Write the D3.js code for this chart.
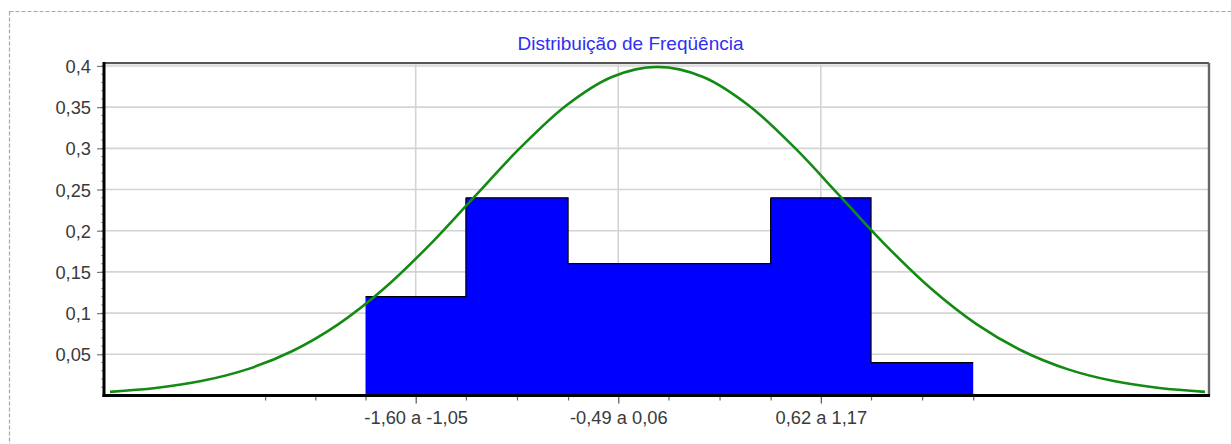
<!DOCTYPE html>
<html>
<head>
<meta charset="utf-8">
<script src="https://cdn.jsdelivr.net/npm/d3@7"></script>
<style>
  html, body { margin: 0; padding: 0; background: #fff; }
  svg { display: block; }
  text { font-family: "Liberation Sans", Arial, sans-serif; }
</style>
</head>
<body>
<svg id="chart" width="1231" height="444"></svg>
<script>
// ---- data ----
const title = "Distribuição de Freqüência";
const binEdges = [-1.60, -1.05, -0.49, 0.06, 0.62, 1.17, 1.73];
const relFreq = [0.12, 0.24, 0.16, 0.16, 0.24, 0.04];
const leadingEdge = -2.15;                 // empty class edge shown on the axis
const binLabels = ["-1,60 a -1,05", "", "-0,49 a 0,06", "", "0,62 a 1,17", ""];
const yTicks = [0.05, 0.10, 0.15, 0.20, 0.25, 0.30, 0.35, 0.40];
const yTickLabels = ["0,05", "0,1", "0,15", "0,2", "0,25", "0,3", "0,35", "0,4"];
// normal curve (z, density)
const curveZ = [-3.0, -2.75, -2.5, -2.25, -2.0, -1.75, -1.5, -1.25, -1.0, -0.75, -0.5, -0.25, 0,
                0.25, 0.5, 0.75, 1.0, 1.25, 1.5, 1.75, 2.0, 2.25, 2.5, 2.75, 3.0];
const curveY = [0.0044, 0.0091, 0.0175, 0.0317, 0.054, 0.0863, 0.1295, 0.1826, 0.242, 0.3011, 0.3521, 0.3867, 0.3989,
                0.3867, 0.3521, 0.3011, 0.242, 0.1826, 0.1295, 0.0863, 0.054, 0.0317, 0.0175, 0.0091, 0.0044];
const xDomain = [-3.033, 3.022];
const yDomain = [0, 0.4036];

// ---- layout ----
const L = 104, R = 1209, T = 63, B = 395.5;
const FS = 18.3;
const svg = d3.select("#chart");

// outer dashed frame
svg.append("rect")
  .attr("x", 9.5).attr("y", 11.5).attr("width", 1240).attr("height", 460)
  .attr("fill", "none").attr("stroke", "#a8a8a8").attr("stroke-width", 1.2)
  .attr("stroke-dasharray", "4,2");

const x = d3.scaleLinear().domain(xDomain).range([L, R]);
const y = d3.scaleLinear().domain(yDomain).range([B, T]);

// title
svg.append("text")
  .attr("x", 630.5).attr("y", 49.5)
  .attr("text-anchor", "middle")
  .attr("font-size", 19)
  .attr("fill", "#3030f0")
  .text(title);

// horizontal grid
svg.append("g").selectAll("line").data(yTicks).join("line")
  .attr("x1", L).attr("x2", R)
  .attr("y1", d => y(d)).attr("y2", d => y(d))
  .attr("stroke", "#d4d4d4").attr("stroke-width", 1.6);

// bins
const bins = relFreq.map((f, i) => ({ x0: binEdges[i], x1: binEdges[i + 1], f, label: binLabels[i] }));

// vertical grid at labelled classes
svg.append("g").selectAll("line").data(bins.filter(b => b.label)).join("line")
  .attr("x1", b => x((b.x0 + b.x1) / 2)).attr("x2", b => x((b.x0 + b.x1) / 2))
  .attr("y1", T).attr("y2", B)
  .attr("stroke", "#d4d4d4").attr("stroke-width", 1.6);

// bars (one joined area so no seams between adjacent classes)
const area = d3.area()
  .x(d => x(d[0])).y0(y(0)).y1(d => y(d[1]))
  .curve(d3.curveStepAfter);
const stepData = bins.map(b => [b.x0, b.f]).concat([[bins[bins.length - 1].x1, bins[bins.length - 1].f]]);
svg.append("path").datum(stepData).attr("d", area).attr("fill", "#0000ff");

// black step outline on top of bars
let stepPath = "";
bins.forEach((b, i) => {
  stepPath += `M${x(b.x0)},${y(b.f)}H${x(b.x1)}`;
  if (i < bins.length - 1) stepPath += `V${y(bins[i + 1].f)}`;
});
svg.append("path").attr("d", stepPath)
  .attr("fill", "none").attr("stroke", "#000").attr("stroke-width", 1.2);

// normal curve
const curveData = curveZ.map((z, i) => [z, curveY[i]]);
svg.append("path")
  .datum(curveData)
  .attr("d", d3.line().x(d => x(d[0])).y(d => y(d[1])).curve(d3.curveCatmullRom))
  .attr("fill", "none").attr("stroke", "#138a13").attr("stroke-width", 2.6);

// frame: top and right
svg.append("line").attr("x1", L).attr("x2", R).attr("y1", T).attr("y2", T)
  .attr("stroke", "#555").attr("stroke-width", 2);
svg.append("line").attr("x1", L).attr("x2", R).attr("y1", T + 1.8).attr("y2", T + 1.8)
  .attr("stroke", "#ddd").attr("stroke-width", 1);
svg.append("line").attr("x1", R).attr("x2", R).attr("y1", T).attr("y2", B)
  .attr("stroke", "#666").attr("stroke-width", 2.4);

// y axis
const yMinor = d3.range(1, 41).map(i => i / 100);
svg.append("g").selectAll("line").data(yMinor).join("line")
  .attr("x1", L - 3).attr("x2", L)
  .attr("y1", d => y(d)).attr("y2", d => y(d))
  .attr("stroke", "#999").attr("stroke-width", 1);
const yAxis = d3.axisLeft(y).tickValues(yTicks)
  .tickFormat((d, i) => yTickLabels[i]).tickSize(7).tickPadding(6);
const gy = svg.append("g").attr("transform", `translate(${L},0)`).call(yAxis);
gy.select(".domain").remove();
gy.selectAll(".tick line").attr("stroke", "#777").attr("stroke-width", 1.2);
gy.selectAll(".tick text").attr("font-size", FS).attr("fill", "#3a3a3a")
  .attr("font-family", "Liberation Sans, Arial, sans-serif").attr("dy", "0.36em");

// x axis ticks: class edges and class centres
const edgesAll = [leadingEdge].concat(binEdges);
const minorTicks = [];
for (let i = 0; i < edgesAll.length; i++) {
  minorTicks.push(edgesAll[i]);
  if (i < edgesAll.length - 1) {
    const c = (edgesAll[i] + edgesAll[i + 1]) / 2;
    if (!bins.some(b => b.label && Math.abs((b.x0 + b.x1) / 2 - c) < 1e-9)) minorTicks.push(c);
  }
}
const xMinorAxis = d3.axisBottom(x).tickValues(minorTicks).tickFormat("").tickSize(5);
const gxm = svg.append("g").attr("transform", `translate(0,${B})`).call(xMinorAxis);
gxm.select(".domain").remove();
gxm.selectAll(".tick line").attr("stroke", "#666").attr("stroke-width", 1.2);

const labelled = bins.filter(b => b.label);
const xAxis = d3.axisBottom(x)
  .tickValues(labelled.map(b => (b.x0 + b.x1) / 2))
  .tickFormat((d, i) => labelled[i].label)
  .tickSize(8).tickPadding(8);
const gx = svg.append("g").attr("transform", `translate(0,${B})`).call(xAxis);
gx.select(".domain").remove();
gx.selectAll(".tick line").attr("stroke", "#555").attr("stroke-width", 1.2);
gx.selectAll(".tick text").attr("font-size", FS).attr("fill", "#3a3a3a")
  .attr("font-family", "Liberation Sans, Arial, sans-serif");

// thick axis lines
svg.append("line").attr("x1", L).attr("x2", L).attr("y1", T - 1).attr("y2", B + 1.5)
  .attr("stroke", "#000").attr("stroke-width", 3);
svg.append("line").attr("x1", L - 1.5).attr("x2", R + 1).attr("y1", B).attr("y2", B)
  .attr("stroke", "#000").attr("stroke-width", 3);
</script>
</body>
</html>
